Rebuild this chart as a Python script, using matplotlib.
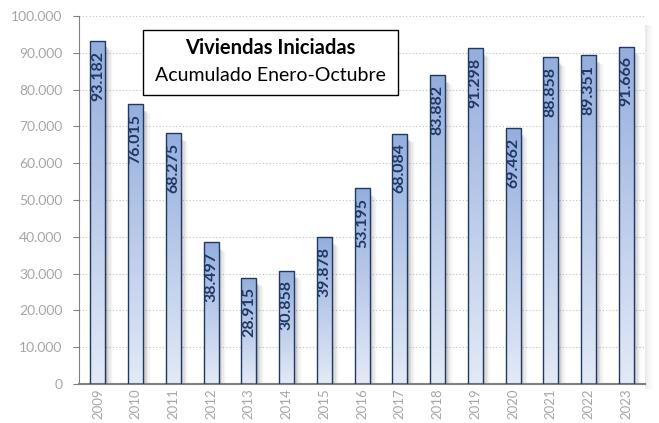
import matplotlib
matplotlib.use("Agg")
import matplotlib.pyplot as plt
import numpy as np
from matplotlib.colors import LinearSegmentedColormap
from matplotlib.patches import Rectangle

years = ["2009", "2010", "2011", "2012", "2013", "2014", "2015", "2016",
         "2017", "2018", "2019", "2020", "2021", "2022", "2023"]
values = [93182, 76015, 68275, 38497, 28915, 30858, 39878, 53195,
          68084, 83882, 91298, 69462, 88858, 89351, 91666]
labels = ["93.182", "76.015", "68.275", "38.497", "28.915", "30.858", "39.878", "53.195",
          "68.084", "83.882", "91.298", "69.462", "88.858", "89.351", "91.666"]
yticks = [0, 10000, 20000, 30000, 40000, 50000, 60000, 70000, 80000, 90000, 100000]
ytick_labels = ["0", "10.000", "20.000", "30.000", "40.000", "50.000", "60.000",
                "70.000", "80.000", "90.000", "100.000"]

plt.rcParams['font.family'] = ['Lato', 'DejaVu Sans']

fig = plt.figure(figsize=(6.59, 4.23), dpi=100)
ax = fig.add_axes([0.12, 0.092, 0.859, 0.870])

# plot-area shadow (right edge)
for k, a in enumerate([0.10, 0.07, 0.05, 0.03, 0.015]):
    fig.patches.append(Rectangle((0.979 + k * 0.0025, 0.080), 0.0025, 0.86,
                                 transform=fig.transFigure, facecolor="#404040",
                                 alpha=a, lw=0, zorder=0))

x = np.arange(len(years))
width = 0.4
ax.set_xlim(-0.5, len(years) - 0.5)
ax.set_ylim(0, 100000)

# grid
for yt in yticks[1:]:
    ax.axhline(yt, color="#BFBFBF", lw=0.8, ls=(0, (1, 2)), zorder=0)

cmap = LinearSegmentedColormap.from_list("g", ["#E3EAF6", "#94AEDD"])
grad = np.linspace(0, 1, 256).reshape(-1, 1)

# bar shadows
for xi, v in zip(x, values):
    for k, a in enumerate([0.12, 0.09, 0.07, 0.05, 0.035, 0.02]):
        off = 0.03 + k * 0.035
        ax.add_patch(Rectangle((xi - width / 2 + off, 0), width, v - 1500 - k * 200,
                               facecolor="#404040", alpha=a, lw=0, zorder=1))

bars = ax.bar(x, values, width=width, facecolor="none", edgecolor="#1F3864",
              lw=1.0, zorder=3)
for b in bars:
    im = ax.imshow(grad, cmap=cmap, aspect="auto", origin="lower",
                   extent=[b.get_x(), b.get_x() + b.get_width(), 0, b.get_height()],
                   zorder=2)
    im.set_clip_path(b)

for xi, v, lab in zip(x, values, labels):
    ax.text(xi, v - 2600, lab, rotation=90, ha="center", va="top",
            fontsize=11.5, fontweight="bold", color="#1F3864", zorder=4)

ax.set_yticks(yticks)
ax.set_yticklabels(ytick_labels, color="#A6A6A6", fontsize=10)
ax.set_xticks(x)
ax.set_xticklabels(years, rotation=90, color="#A6A6A6", fontsize=9.5)
ax.tick_params(axis="x", length=0, pad=3)
ax.tick_params(axis="y", length=4, color="#808080", pad=8)

for s in ["top", "right"]:
    ax.spines[s].set_visible(False)
ax.spines["left"].set_color("#808080")
ax.spines["bottom"].set_color("#808080")
ax.spines["bottom"].set_linewidth(1.5)

ax.text(0.338, 0.913, "Viviendas Iniciadas", transform=ax.transAxes, ha="center",
        va="center", fontsize=14.5, fontweight="bold", zorder=6)
ax.text(0.338, 0.838, "Acumulado Enero-Octubre", transform=ax.transAxes, ha="center",
        va="center", fontsize=14, zorder=6)
ax.add_patch(Rectangle((0.113, 0.785), 0.45, 0.177, transform=ax.transAxes,
                       facecolor="white", edgecolor="black", lw=1.0, zorder=5))

fig.savefig("out.png", dpi=100)
